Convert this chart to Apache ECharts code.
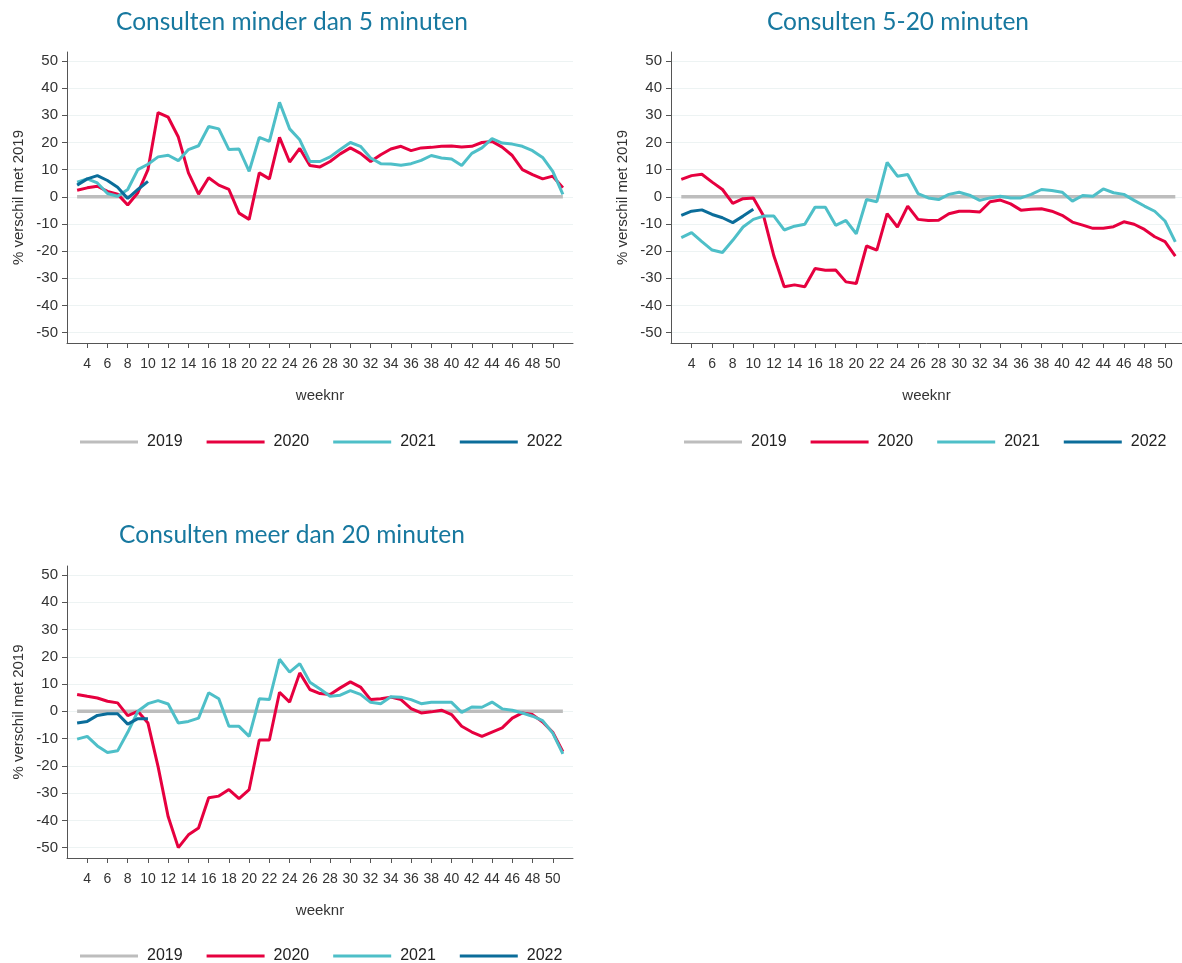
<!DOCTYPE html>
<html>
<head>
<meta charset="utf-8">
<script src="https://cdn.jsdelivr.net/npm/echarts@6/dist/echarts.min.js"></script>
<style>
  html, body { margin: 0; padding: 0; background: #fff; }
  #chart { width: 1182px; height: 963px; }
</style>
</head>
<body>
<div id="chart"></div>
<script>
// weken
var weeks = [3,4,5,6,7,8,9,10,11,12,13,14,15,16,17,18,19,20,21,22,23,24,25,26,27,
  28,29,30,31,32,33,34,35,36,37,38,39,40,41,42,43,44,45,46,47,48,49,50,51];
var weeks2022 = [3,4,5,6,7,8,9,10];
var xTicks = [4,6,8,10,12,14,16,18,20,22,24,26,28,30,32,34,36,38,40,42,44,46,48,50];
var yTicks = [-50,-40,-30,-20,-10,0,10,20,30,40,50];
var years = ['2019','2020','2021','2022'];

// Consulten minder dan 5 minuten
var kort2020 = [2.4,3.3,3.9,2,1,-3,1.5,10,31,29.3,22,8.8,1,7,4.3,2.7,-6,-8.3,8.8,6.6,21.9,12.8,17.8,11.5,11,
  13,15.8,18,16,13,15.5,17.6,18.6,17,18,18.2,18.6,18.7,18.3,18.6,20,20.4,18.3,15.2,10,8.2,6.6,7.6,3.3];
var kort2021 = [5.4,6.6,5.1,1.2,0.2,2.7,10,12,14.7,15.3,13.3,17.4,18.8,25.9,25,17.4,17.6,9.4,21.9,20.4,34.8,25,21,13,13,
  14.7,17.4,20,18.6,14.3,12.2,12.1,11.6,12.2,13.4,15.2,14.3,13.9,11.5,16,18,21.4,19.8,19.4,18.6,17,14.5,9.4,0.9];
var kort2022 = [4.3,6.6,7.8,6,3.5,-0.6,2.7,5.7];

// Consulten 5-20 minuten
var mid2020 = [6.4,7.8,8.3,5.4,2.7,-2.4,-0.7,-0.4,-7.1,-21.8,-33.1,-32.4,-33.1,-26.4,-27,-26.9,-31.3,-31.9,-18.1,-19.6,-6.2,-11.1,-3.4,-8.3,-8.7,
  -8.6,-6.2,-5.3,-5.3,-5.6,-1.8,-1.2,-2.6,-4.9,-4.6,-4.4,-5.3,-6.8,-9.3,-10.4,-11.6,-11.6,-11,-9.2,-10.1,-12,-14.7,-16.5,-21.8];
var mid2021 = [-15,-13.2,-16.5,-19.6,-20.5,-16,-11.1,-8.3,-7.1,-7.1,-12.2,-10.8,-10.1,-3.8,-3.8,-10.5,-8.7,-13.6,-1,-1.8,12.7,7.6,8.2,1.2,-0.4,
  -1,0.9,1.7,0.6,-1.3,-0.4,0.2,-0.4,-0.4,0.9,2.7,2.3,1.7,-1.6,0.5,0.2,2.9,1.5,0.9,-1.3,-3.4,-5.3,-8.9,-16.6];
var mid2022 = [-6.8,-5.3,-4.8,-6.5,-7.7,-9.5,-7.1,-4.6];

// Consulten meer dan 20 minuten
var lang2020 = [6.2,5.5,4.9,3.7,3.1,-1.6,0,-4.3,-20.3,-38.7,-50,-45.3,-42.8,-31.7,-31.1,-28.7,-32,-28.7,-10.5,-10.5,7,3.4,14.1,8,6.5,
  6.2,8.6,10.8,8.9,4.3,4.6,5.2,4.3,1,-0.6,-0.2,0.4,-1.2,-5.5,-7.6,-9.2,-7.6,-6.1,-2.5,-0.6,-1.2,-3.9,-7.7,-14.8];
var lang2021 = [-10.2,-9.2,-12.7,-15.1,-14.5,-7.7,0,2.8,3.9,2.7,-4.3,-3.7,-2.5,6.8,4.6,-5.5,-5.5,-9.2,4.6,4.3,19.1,14.4,17.5,10.7,8.2,
  5.5,5.9,7.6,6.2,3.3,2.8,5.3,5.2,4.3,2.8,3.3,3.3,3.3,-0.4,1.6,1.5,3.4,0.9,0.4,-0.6,-1.8,-3.4,-8,-15.6];
var lang2022 = [-4.3,-3.7,-1.5,-0.9,-0.9,-4.7,-2.7,-2.7];

var colors = { '2019': '#bdbdbd', '2020': '#e6003f', '2021': '#4ebfc8', '2022': '#0b6d9a' };

function pairs(xs, ys) {
  return xs.map(function (x, i) { return [x, ys[i]]; });
}

var panels = [
  { title: 'Consulten minder dan 5 minuten', cx: 292, ty: 22, left: 67, top: 52, width: 506, height: 291, xmax: 52,
    legendLeft: 80, legendTop: 434, d2020: kort2020, d2021: kort2021, d2022: kort2022 },
  { title: 'Consulten 5-20 minuten', cx: 898, ty: 22, left: 671, top: 52, width: 511, height: 291, xmax: 51.65,
    legendLeft: 684, legendTop: 434, d2020: mid2020, d2021: mid2021, d2022: mid2022 },
  { title: 'Consulten meer dan 20 minuten', cx: 292, ty: 535, left: 67, top: 566, width: 506, height: 292, xmax: 52,
    legendLeft: 80, legendTop: 948, d2020: lang2020, d2021: lang2021, d2022: lang2022 }
];

var axisColor = '#555';
var labelFont = { color: '#333', fontSize: 15, fontFamily: 'Liberation Sans' };

var option = {
  animation: false,
  backgroundColor: '#fff',
  graphic: [],
  legend: [],
  grid: [],
  xAxis: [],
  yAxis: [],
  series: []
};

panels.forEach(function (p, i) {
  option.graphic.push({
    type: 'text', x: p.cx, y: p.ty,
    style: { text: p.title, align: 'center', verticalAlign: 'middle',
      font: '24.5px Lato', fill: '#17789f' }
  });
  option.grid.push({ left: p.left, top: p.top, width: p.width, height: p.height });
  option.xAxis.push({
    type: 'value', gridIndex: i, min: 2, max: p.xmax,
    name: 'weeknr', nameLocation: 'middle', nameGap: 45,
    nameTextStyle: { color: '#333', fontSize: 15, fontFamily: 'Liberation Sans' },
    axisLine: { show: true, onZero: false, lineStyle: { color: axisColor, width: 1 } },
    axisTick: { show: true, inside: false, length: 5, customValues: xTicks, lineStyle: { color: axisColor, width: 1 } },
    axisLabel: { customValues: xTicks, margin: 14, color: '#333', fontSize: 14, fontFamily: 'Liberation Sans' },
    splitLine: { show: false }
  });
  option.yAxis.push({
    type: 'value', gridIndex: i, min: -53.8, max: 53.3,
    name: '% verschil met 2019', nameLocation: 'middle', nameGap: 41, nameRotate: 90,
    nameTextStyle: { color: '#333', fontSize: 15, fontFamily: 'Liberation Sans' },
    axisLine: { show: true, onZero: false, lineStyle: { color: axisColor, width: 1 } },
    axisTick: { show: true, inside: false, length: 5, customValues: yTicks, lineStyle: { color: axisColor } },
    axisLabel: Object.assign({ customValues: yTicks, margin: 9 }, labelFont),
    splitLine: { show: true, lineStyle: { color: '#edf3f3', width: 1 } }
  });
  option.legend.push({
    left: p.legendLeft, top: p.legendTop, padding: 0, data: years,
    icon: 'rect', itemWidth: 58, itemHeight: 3, itemGap: 24,
    textStyle: { color: '#222', fontSize: 16, fontFamily: 'Liberation Sans', padding: [0, 0, 0, 4] }
  });
  var sets = {
    '2019': pairs(weeks, weeks.map(function () { return 0; })),
    '2020': pairs(weeks, p.d2020),
    '2021': pairs(weeks, p.d2021),
    '2022': pairs(weeks2022, p.d2022)
  };
  years.forEach(function (y) {
    option.series.push({
      name: y, type: 'line', xAxisIndex: i, yAxisIndex: i,
      data: sets[y], showSymbol: false, symbol: 'none',
      lineStyle: { color: colors[y], width: y === '2019' ? 3.5 : 3 },
      itemStyle: { color: colors[y] }
    });
  });
});

var myChart = echarts.init(document.getElementById('chart'));
myChart.setOption(option);
</script>
</body>
</html>
